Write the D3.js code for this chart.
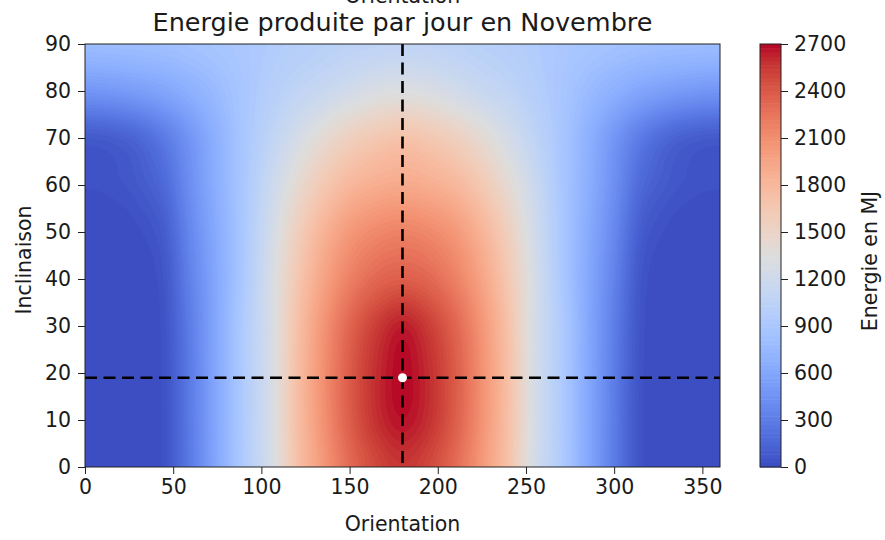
<!DOCTYPE html>
<html>
<head>
<meta charset="utf-8">
<script src="https://cdn.jsdelivr.net/npm/d3@7"></script>
<style>
  body { margin: 0; background: #fff; }
  text { font-family: "DejaVu Sans", sans-serif; fill: #1a1a1a; }
</style>
</head>
<body>
<svg id="chart" width="885" height="540"></svg>
<script>
// Grid of panel orientations (degrees) and inclinations (degrees)
const orientations = [0, 15, 30, 45, 60, 75, 90, 105, 120, 135, 150, 165, 180,
                      195, 210, 225, 240, 255, 270, 285, 300, 315, 330, 345, 360];
const inclinations = [0, 10, 20, 30, 40, 50, 60, 70, 80, 90];

// Daily energy (MJ) in November, one row per inclination, one column per orientation
const energyInc0  = [0, 0, 0, 40, 300, 620, 950, 1250, 1700, 2030, 2300, 2480, 2560, 2480, 2300, 2030, 1700, 1250, 950, 620, 300, 40, 0, 0, 0];
const energyInc10 = [0, 0, 0, 40, 300, 620, 950, 1260, 1720, 2070, 2370, 2580, 2670, 2580, 2370, 2070, 1720, 1260, 950, 620, 300, 40, 0, 0, 0];
const energyInc20 = [0, 0, 0, 40, 300, 620, 950, 1260, 1720, 2080, 2380, 2590, 2690, 2590, 2380, 2080, 1720, 1260, 950, 620, 300, 40, 0, 0, 0];
const energyInc30 = [0, 0, 0, 45, 310, 620, 950, 1260, 1700, 2050, 2330, 2530, 2640, 2530, 2330, 2050, 1700, 1260, 950, 620, 310, 45, 0, 0, 0];
const energyInc40 = [0, 0, 0, 60, 340, 620, 920, 1260, 1640, 1950, 2180, 2320, 2370, 2320, 2180, 1950, 1640, 1260, 920, 620, 340, 60, 0, 0, 0];
const energyInc50 = [0, 0, 20, 100, 380, 640, 910, 1220, 1560, 1830, 2030, 2130, 2170, 2130, 2030, 1830, 1560, 1220, 910, 640, 380, 100, 20, 0, 0];
const energyInc60 = [30, 40, 80, 180, 430, 670, 900, 1160, 1420, 1640, 1800, 1880, 1910, 1880, 1800, 1640, 1420, 1160, 900, 670, 430, 180, 80, 40, 30];
const energyInc70 = [80, 100, 160, 290, 480, 690, 890, 1070, 1250, 1420, 1560, 1650, 1700, 1650, 1560, 1420, 1250, 1070, 890, 690, 480, 290, 160, 100, 80];
const energyInc80 = [470, 490, 530, 590, 680, 780, 890, 990, 1080, 1150, 1230, 1300, 1330, 1300, 1230, 1150, 1080, 990, 890, 780, 680, 590, 530, 490, 470];
const energyInc90 = [790, 795, 805, 820, 845, 875, 910, 950, 990, 1020, 1050, 1070, 1080, 1070, 1050, 1020, 990, 950, 910, 875, 845, 820, 805, 795, 790];
const energyRows = [energyInc0, energyInc10, energyInc20, energyInc30, energyInc40,
                    energyInc50, energyInc60, energyInc70, energyInc80, energyInc90];

// Best orientation / inclination
const bestOrientation = 180;
const bestInclination = 19;

// Axis ticks
const xTicks = [0, 50, 100, 150, 200, 250, 300, 350];
const yTicks = [0, 10, 20, 30, 40, 50, 60, 70, 80, 90];
const colorTicks = [0, 300, 600, 900, 1200, 1500, 1800, 2100, 2400, 2700];
const energyMax = 2700;

// Labels
const titleText = "Energie produite par jour en Novembre";
const xLabel = "Orientation";
const yLabel = "Inclinaison";
const colorLabel = "Energie en MJ";

// matplotlib "coolwarm" colormap stops
const coolwarmStops = [
  [59,76,192],[68,90,204],[77,104,215],[87,117,225],[98,130,234],[108,142,241],
  [119,154,247],[130,165,251],[141,176,254],[152,185,255],[163,194,255],[174,201,253],
  [184,208,249],[194,213,244],[204,217,238],[213,219,230],[221,221,221],[229,216,209],
  [236,211,197],[241,204,185],[245,196,173],[247,187,160],[247,177,148],[247,166,135],
  [244,154,123],[241,141,111],[236,127,99],[229,112,88],[222,96,77],[213,80,66],
  [203,62,56],[192,40,47],[180,4,38]
].map(c => d3.rgb(c[0], c[1], c[2]));
const coolwarm = d3.scaleLinear()
  .domain(d3.range(coolwarmStops.length).map(i => i / (coolwarmStops.length - 1)))
  .range(coolwarmStops)
  .interpolate(d3.interpolateRgb)
  .clamp(true);

// Layout
const plot = { left: 85, right: 720, top: 44, bottom: 467 };
const cbar = { left: 760, right: 781, top: 44, bottom: 467 };
const fontSize = 20.5;

const svg = d3.select("#chart");
const x = d3.scaleLinear().domain([0, 360]).range([plot.left, plot.right]);
const y = d3.scaleLinear().domain([0, 90]).range([plot.bottom, plot.top]);

// Smooth surface: Catmull-Rom resampling of the energy grid at 1-degree steps
function cubic(p0, p1, p2, p3, t) {
  return 0.5 * ((2 * p1) + (-p0 + p2) * t + (2 * p0 - 5 * p1 + 4 * p2 - p3) * t * t +
                (-p0 + 3 * p1 - 3 * p2 + p3) * t * t * t);
}
function sample1d(arr, coords, v) {
  const n = coords.length;
  let k = d3.bisectRight(coords, v) - 1;
  k = Math.max(0, Math.min(n - 2, k));
  const t = (v - coords[k]) / (coords[k + 1] - coords[k]);
  const g = i => arr[Math.max(0, Math.min(n - 1, i))];
  return cubic(g(k - 1), g(k), g(k + 1), g(k + 2), t);
}
const nx = 361, ny = 91;
const field = new Array(nx * ny);
for (let j = 0; j < ny; j++) {
  const colVals = orientations.map((_, c) => sample1d(energyRows.map(r => r[c]), inclinations, j));
  for (let i = 0; i < nx; i++) {
    const v = sample1d(colVals, orientations, i);
    field[i + j * nx] = Math.max(0, Math.min(energyMax - 1, v));
  }
}

// Filled contour bands
const step = 27;
const levels = d3.range(0, energyMax, step);
const bands = d3.contours().size([nx, ny]).thresholds(levels)(field);
const proj = d3.geoTransform({
  point(px, py) { this.stream.point(x(px - 0.5), y(py - 0.5)); }
});
const path = d3.geoPath(proj);

svg.append("clipPath").attr("id", "plotClip")
  .append("rect")
  .attr("x", plot.left).attr("y", plot.top)
  .attr("width", plot.right - plot.left).attr("height", plot.bottom - plot.top);

const gContours = svg.append("g").attr("clip-path", "url(#plotClip)");
gContours.append("rect")
  .attr("x", plot.left).attr("y", plot.top)
  .attr("width", plot.right - plot.left).attr("height", plot.bottom - plot.top)
  .attr("fill", coolwarm(step / 2 / energyMax));
gContours.selectAll("path.band")
  .data(bands)
  .join("path")
  .attr("class", "band")
  .attr("d", path)
  .attr("fill", d => coolwarm((d.value + step / 2) / energyMax))
  .attr("stroke", d => coolwarm((d.value + step / 2) / energyMax))
  .attr("stroke-width", 0.6);

// Optimum cross-hair
svg.append("line")
  .attr("x1", x(bestOrientation)).attr("x2", x(bestOrientation))
  .attr("y1", plot.top).attr("y2", plot.bottom)
  .attr("stroke", "#000").attr("stroke-width", 2.6).attr("stroke-dasharray", "12,6.5");
svg.append("line")
  .attr("x1", plot.left).attr("x2", plot.right)
  .attr("y1", y(bestInclination)).attr("y2", y(bestInclination))
  .attr("stroke", "#000").attr("stroke-width", 2.6).attr("stroke-dasharray", "12,6.5");
svg.append("circle")
  .attr("cx", x(bestOrientation)).attr("cy", y(bestInclination))
  .attr("r", 4.5).attr("fill", "#fff");

// Frame
svg.append("rect")
  .attr("x", plot.left).attr("y", plot.top)
  .attr("width", plot.right - plot.left).attr("height", plot.bottom - plot.top)
  .attr("fill", "none").attr("stroke", "#222").attr("stroke-width", 1);

// Axes
const xAxis = svg.append("g")
  .attr("transform", `translate(0,${plot.bottom})`)
  .call(d3.axisBottom(x).tickValues(xTicks).tickSize(7).tickPadding(5));
const yAxis = svg.append("g")
  .attr("transform", `translate(${plot.left},0)`)
  .call(d3.axisLeft(y).tickValues(yTicks).tickSize(7).tickPadding(7));
[xAxis, yAxis].forEach(a => {
  a.select(".domain").remove();
  a.selectAll("line").attr("stroke", "#222");
  a.selectAll("text").attr("font-size", fontSize).attr("font-family", "DejaVu Sans").attr("fill", "#1a1a1a");
});

svg.append("text")
  .attr("x", (plot.left + plot.right) / 2).attr("y", 531)
  .attr("text-anchor", "middle").attr("font-size", fontSize)
  .text(xLabel);
svg.append("text")
  .attr("transform", `translate(31,260) rotate(-90)`)
  .attr("text-anchor", "middle").attr("font-size", fontSize)
  .text(yLabel);

// Title, with the x label of the panel above just peeking in
svg.append("text")
  .attr("x", (plot.left + plot.right) / 2).attr("y", 3)
  .attr("text-anchor", "middle").attr("font-size", fontSize)
  .text(xLabel);
svg.append("text")
  .attr("x", (plot.left + plot.right) / 2).attr("y", 31)
  .attr("text-anchor", "middle").attr("font-size", 25.5)
  .text(titleText);

// Colorbar
const c = d3.scaleLinear().domain([0, energyMax]).range([cbar.bottom, cbar.top]);
svg.append("g").selectAll("rect")
  .data(levels)
  .join("rect")
  .attr("x", cbar.left)
  .attr("width", cbar.right - cbar.left)
  .attr("y", d => c(Math.min(energyMax, d + step)))
  .attr("height", d => c(d) - c(Math.min(energyMax, d + step)) + 0.5)
  .attr("fill", d => coolwarm((d + step / 2) / energyMax));
svg.append("rect")
  .attr("x", cbar.left).attr("y", cbar.top)
  .attr("width", cbar.right - cbar.left).attr("height", cbar.bottom - cbar.top)
  .attr("fill", "none").attr("stroke", "#222").attr("stroke-width", 1);
const cAxis = svg.append("g")
  .attr("transform", `translate(${cbar.right},0)`)
  .call(d3.axisRight(c).tickValues(colorTicks).tickFormat(d3.format("d")).tickSize(7).tickPadding(6));
cAxis.select(".domain").remove();
cAxis.selectAll("line").attr("stroke", "#222");
cAxis.selectAll("text").attr("font-size", fontSize).attr("font-family", "DejaVu Sans").attr("fill", "#1a1a1a");

svg.append("text")
  .attr("transform", `translate(877,261) rotate(-90)`)
  .attr("text-anchor", "middle").attr("font-size", fontSize)
  .text(colorLabel);
</script>
</body>
</html>
